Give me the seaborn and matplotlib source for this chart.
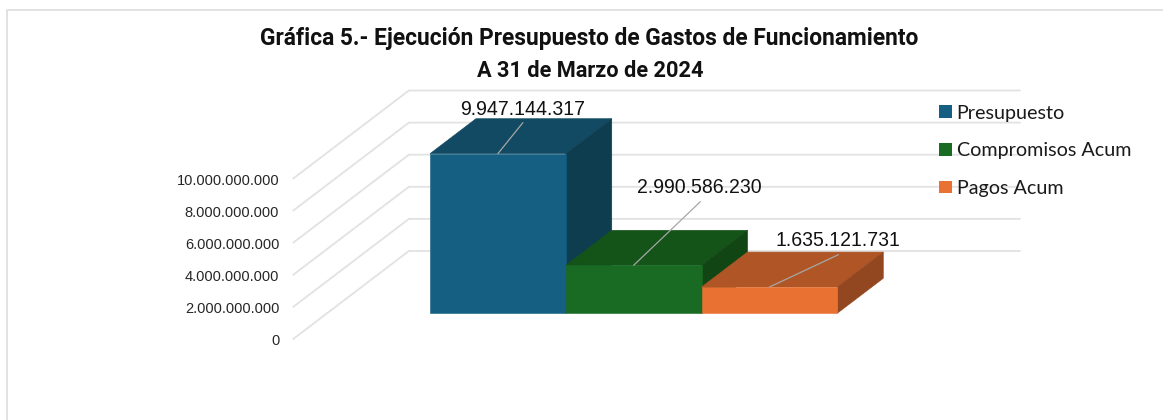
import matplotlib
matplotlib.use('Agg')
import matplotlib.pyplot as plt
from matplotlib.lines import Line2D
from matplotlib.patches import Patch, Polygon
import pandas as pd
import seaborn as sns

# datos de la grafica
categorias = ['Presupuesto', 'Compromisos Acum', 'Pagos Acum']
valores = [9947144317, 2990586230, 1635121731]
etiquetas = ['9.947.144.317', '2.990.586.230', '1.635.121.731']
ticks = [0, 2000000000, 4000000000, 6000000000, 8000000000, 10000000000]
tick_labels = ['0', '2.000.000.000', '4.000.000.000', '6.000.000.000', '8.000.000.000', '10.000.000.000']

color_frente = ['#156082', '#196B24', '#E97132']
color_arriba = ['#134A63', '#145419', '#B05626']
color_lado = ['#0E3D50', '#114514', '#934720']
gris = '#E2E2E2'

W, H = 1163, 420
sns.set_theme(style='white')
plt.rcParams['font.family'] = ['Liberation Sans', 'DejaVu Sans']

fig = plt.figure(figsize=(W / 100, H / 100), dpi=100, facecolor='white')
# el eje coincide con el plano frontal de las barras (pixeles del original)
ax = fig.add_axes([430 / W, 1 - 313.3 / H, 407.3 / W, 160.5 / H])

df = pd.DataFrame({'categoria': categorias, 'valor': valores})
sns.barplot(data=df, x='categoria', y='valor', hue='categoria', palette=color_frente,
            saturation=1, width=1, legend=False, ax=ax)
ax.set_xlim(-0.5, 2.5)
ax.set_ylim(0, 10000000000)
ax.axis('off')

# vector de profundidad de la perspectiva, en unidades de datos
px_x = 3 / 407.3
px_y = 10000000000 / 160.5
dx, dy = 46 * px_x, 35 * px_y

# paredes: lineas de rejilla
x_izq = -0.5 - 103 * px_x
prof_frente, prof_fondo = -25.7 / 35, 62.3 / 35
x_fin = -0.5 + (1020 - 430) * px_x - prof_fondo * dx
for t in ticks:
    x0 = x_izq + prof_frente * dx
    y0 = t + prof_frente * dy
    x1 = x_izq + prof_fondo * dx
    y1 = t + prof_fondo * dy
    ax.plot([x0, x1, x_fin + prof_fondo * dx], [y0, y1, y1], color=gris, lw=1.3,
            clip_on=False, zorder=0.5, solid_joinstyle='miter')

for t, lab in zip(ticks, tick_labels):
    ax.annotate(lab, (x_izq + prof_frente * dx, t + prof_frente * dy), xytext=(-14, -2),
                textcoords='offset pixels', ha='right', va='center', fontsize=10.55,
                color='#262626', annotation_clip=False)

# caras superior y lateral a partir de las barras que dibuja seaborn
barras = sorted([p for p in ax.patches if p.get_height() > 0], key=lambda p: p.get_x())
for i, b in enumerate(barras):
    x0, x1, h = b.get_x(), b.get_x() + b.get_width(), b.get_height()
    b.set_edgecolor(color_frente[i])
    b.set_linewidth(0.4)
    b.set_zorder(3 + i + 0.5)
    b.set_clip_on(False)
    arriba = Polygon([(x0, h), (x1, h), (x1 + dx, h + dy), (x0 + dx, h + dy)], closed=True,
                     facecolor=color_arriba[i], edgecolor=color_arriba[i], lw=0.4,
                     clip_on=False, zorder=3 + i)
    lado = Polygon([(x1, 0), (x1, h), (x1 + dx, h + dy), (x1 + dx, dy)], closed=True,
                   facecolor=color_lado[i], edgecolor=color_lado[i], lw=0.4,
                   clip_on=False, zorder=3 + i)
    ax.add_patch(arriba)
    ax.add_patch(lado)

# etiquetas de datos con linea guia
pos_etiqueta = [(24.5, 44), (66, 78), (69, 47)]
pos_guia = [(25, 31), (66.7, 63.6), (69, 32.4)]
for i, b in enumerate(barras):
    punto = (b.get_x() + b.get_width() / 2, b.get_height())
    ax.annotate('', punto, xytext=pos_guia[i], textcoords='offset pixels', annotation_clip=False,
                zorder=10, arrowprops=dict(arrowstyle='-', color='#A6A6A6', lw=0.9, shrinkA=0, shrinkB=0))
    ax.annotate(etiquetas[i], punto, xytext=pos_etiqueta[i], textcoords='offset pixels',
                ha='center', va='center', fontsize=14.05, color='#111111',
                annotation_clip=False, zorder=10)

# leyenda
handles = [Patch(facecolor=c, edgecolor='none') for c in color_frente]
ley = fig.legend(handles, categorias, loc='upper left', bbox_to_anchor=(939.5 / W, 1 - 104.5 / H),
                 frameon=False, handlelength=0.62, handleheight=0.62, handletextpad=0.25,
                 labelspacing=1.05, borderpad=0, borderaxespad=0, prop={'family': 'Lato', 'size': 14.2})
for txt in ley.get_texts():
    txt.set_color('#1a1a1a')

# titulo
fig.text(589 / W, 1 - 39 / H, 'Gráfica 5.- Ejecución Presupuesto de Gastos de Funcionamiento',
         ha='center', va='center', fontsize=16.35, fontweight='bold', family='Roboto', color='#111111')
fig.text(590 / W, 1 - 71 / H, 'A 31 de Marzo de 2024',
         ha='center', va='center', fontsize=15.7, fontweight='bold', family='Roboto', color='#111111')

# borde del recuadro
fig.add_artist(Line2D([7 / W, 7 / W, 1], [0, 1 - 9.5 / H, 1 - 9.5 / H], color=gris, lw=1.4))

fig.savefig('out.png', dpi=100)
